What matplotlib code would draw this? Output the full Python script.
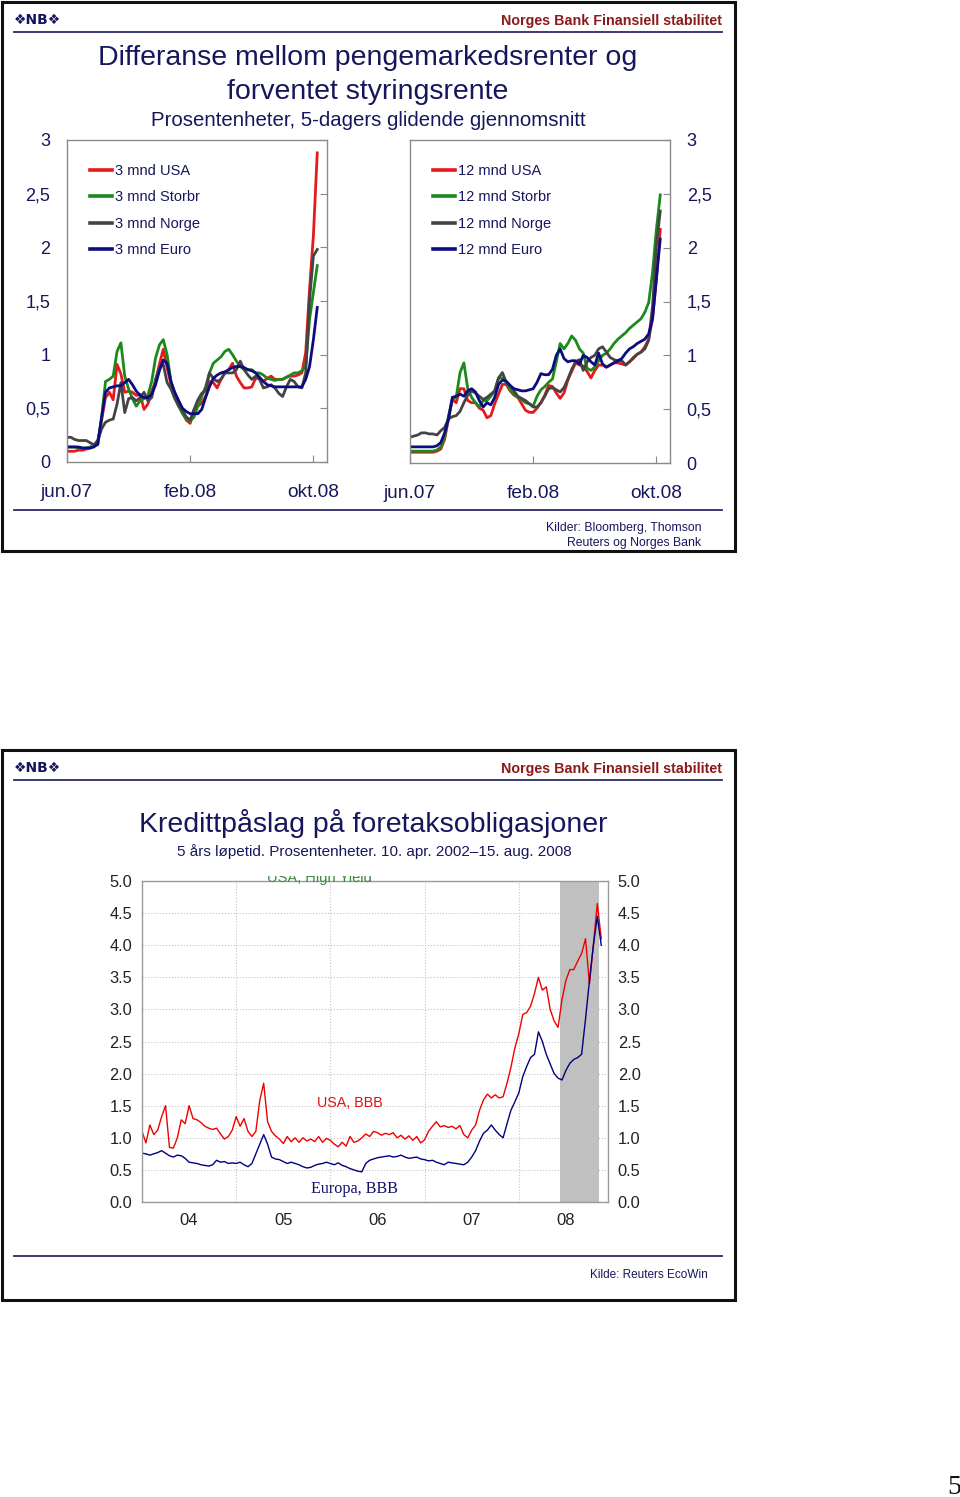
import numpy as np
import matplotlib
matplotlib.use("Agg")
import matplotlib.pyplot as plt
from matplotlib.patches import Rectangle
from matplotlib.lines import Line2D
from matplotlib.transforms import Bbox, TransformedBbox

plt.rcParams["font.family"] = ["Liberation Sans", "DejaVu Sans"]

# -----------------------------
# Data
# -----------------------------
# Slide 1: months after 1 June 2007, weekly-ish steps
months = np.arange(0, 16.26, 0.25)
month_ticks = [0, 8, 16]
month_labels = ["jun.07", "feb.08", "okt.08"]

usa_3m = [0.10, 0.10, 0.10, 0.11, 0.11, 0.12, 0.13, 0.15,
          0.20, 0.39, 0.60, 0.65, 0.58, 0.91, 0.82, 0.65, 0.66, 0.65, 0.62, 0.63, 0.49,
          0.54, 0.66, 0.75, 0.91, 1.05, 0.88, 0.72, 0.63, 0.57, 0.46, 0.39, 0.36,
          0.49, 0.52, 0.55, 0.61, 0.75, 0.74, 0.69, 0.77, 0.83, 0.86, 0.92, 0.80, 0.74,
          0.69, 0.69, 0.70, 0.78, 0.78, 0.75, 0.78, 0.80, 0.77, 0.77, 0.77, 0.79, 0.80,
          0.80, 0.81, 0.83, 1.02, 1.61, 2.11, 2.88]
storbr_3m = [0.14, 0.14, 0.14, 0.13, 0.13, 0.13, 0.14, 0.15,
             0.16, 0.42, 0.75, 0.77, 0.80, 1.03, 1.11, 0.80, 0.68, 0.59, 0.52, 0.57, 0.59,
             0.62, 0.75, 0.97, 1.09, 1.14, 1.00, 0.75, 0.62, 0.52, 0.45, 0.40, 0.38,
             0.42, 0.52, 0.61, 0.70, 0.83, 0.92, 0.95, 0.98, 1.03, 1.05, 1.00, 0.94, 0.89,
             0.86, 0.86, 0.86, 0.83, 0.83, 0.81, 0.78, 0.77, 0.76, 0.77, 0.77, 0.79, 0.81,
             0.83, 0.83, 0.85, 0.89, 1.33, 1.58, 1.83]
norge_3m = [0.23, 0.23, 0.21, 0.20, 0.20, 0.20, 0.18, 0.16,
            0.20, 0.31, 0.37, 0.39, 0.40, 0.54, 0.74, 0.46, 0.59, 0.60, 0.57, 0.60, 0.65,
            0.57, 0.60, 0.77, 0.88, 0.91, 0.74, 0.68, 0.59, 0.52, 0.48, 0.42, 0.39,
            0.49, 0.58, 0.64, 0.67, 0.83, 0.78, 0.75, 0.77, 0.83, 0.83, 0.83, 0.86, 0.94,
            0.86, 0.81, 0.77, 0.80, 0.77, 0.69, 0.70, 0.72, 0.69, 0.64, 0.61, 0.70, 0.77,
            0.75, 0.70, 0.69, 0.83, 1.51, 1.92, 1.98]
euro_3m = [0.14, 0.14, 0.14, 0.14, 0.13, 0.13, 0.13, 0.14,
           0.17, 0.42, 0.65, 0.69, 0.70, 0.71, 0.71, 0.74, 0.77, 0.72, 0.66, 0.62, 0.60,
           0.60, 0.63, 0.72, 0.85, 0.95, 0.92, 0.75, 0.65, 0.57, 0.50, 0.47, 0.45,
           0.45, 0.45, 0.49, 0.60, 0.70, 0.78, 0.81, 0.83, 0.84, 0.86, 0.88, 0.89, 0.89,
           0.88, 0.86, 0.85, 0.83, 0.79, 0.75, 0.72, 0.71, 0.70, 0.70, 0.70, 0.70, 0.70,
           0.70, 0.70, 0.70, 0.77, 0.89, 1.14, 1.44]

usa_12m = [0.10, 0.10, 0.10, 0.10, 0.10, 0.10, 0.10, 0.11,
           0.13, 0.22, 0.41, 0.59, 0.56, 0.69, 0.69, 0.58, 0.56, 0.56, 0.51, 0.49, 0.42,
           0.44, 0.55, 0.64, 0.73, 0.73, 0.67, 0.63, 0.61, 0.55, 0.49, 0.47, 0.47,
           0.51, 0.56, 0.63, 0.72, 0.71, 0.65, 0.60, 0.65, 0.77, 0.85, 0.93, 0.91, 0.90,
           0.85, 0.79, 0.86, 0.91, 0.91, 0.89, 0.91, 0.93, 0.93, 0.92, 0.91, 0.94, 0.97,
           1.01, 1.03, 1.08, 1.15, 1.34, 1.71, 2.17]
storbr_12m = [0.11, 0.11, 0.11, 0.11, 0.11, 0.11, 0.11, 0.12,
              0.15, 0.24, 0.44, 0.59, 0.61, 0.84, 0.93, 0.69, 0.61, 0.56, 0.52, 0.58, 0.58,
              0.62, 0.67, 0.79, 0.79, 0.75, 0.68, 0.64, 0.61, 0.59, 0.56, 0.55, 0.53,
              0.62, 0.68, 0.71, 0.75, 0.78, 0.94, 1.11, 1.06, 1.11, 1.18, 1.14, 1.06, 1.02,
              0.88, 0.86, 0.89, 0.95, 1.00, 1.02, 1.06, 1.11, 1.15, 1.18, 1.21, 1.25, 1.28,
              1.31, 1.34, 1.40, 1.49, 1.77, 2.17, 2.49]
norge_12m = [0.24, 0.25, 0.26, 0.28, 0.28, 0.27, 0.27, 0.26,
             0.30, 0.33, 0.41, 0.43, 0.44, 0.48, 0.56, 0.63, 0.67, 0.65, 0.62, 0.59, 0.61,
             0.64, 0.67, 0.79, 0.84, 0.75, 0.72, 0.67, 0.62, 0.60, 0.58, 0.55, 0.52,
             0.52, 0.56, 0.62, 0.69, 0.70, 0.68, 0.66, 0.70, 0.78, 0.87, 0.94, 0.96, 0.86,
             0.94, 0.98, 1.00, 1.06, 1.08, 1.03, 0.98, 0.96, 0.95, 0.95, 0.91, 0.94, 0.98,
             1.01, 1.03, 1.06, 1.14, 1.46, 2.02, 2.34]
euro_12m = [0.15, 0.15, 0.15, 0.15, 0.15, 0.15, 0.15, 0.16,
            0.19, 0.28, 0.41, 0.61, 0.62, 0.64, 0.62, 0.67, 0.69, 0.66, 0.58, 0.52, 0.56,
            0.54, 0.61, 0.73, 0.77, 0.76, 0.72, 0.69, 0.68, 0.67, 0.67, 0.68, 0.69,
            0.75, 0.83, 0.82, 0.82, 0.87, 1.00, 1.06, 0.97, 0.94, 0.95, 0.95, 0.92, 1.00,
            0.98, 0.94, 0.91, 1.02, 0.92, 0.89, 0.91, 0.93, 0.95, 0.97, 1.02, 1.06, 1.08,
            1.11, 1.13, 1.15, 1.20, 1.34, 1.71, 2.08]

labels_3m = ["3 mnd USA", "3 mnd Storbr", "3 mnd Norge", "3 mnd Euro"]
labels_12m = ["12 mnd USA", "12 mnd Storbr", "12 mnd Norge", "12 mnd Euro"]
rate_ticks = [0, 0.5, 1, 1.5, 2, 2.5, 3]
rate_tick_labels = ["0", "0,5", "1", "1,5", "2", "2,5", "3"]

# Slide 2: half-monthly points from 2004
years = 2004 + np.arange(118) / 24
usa_bbb = [1.10, 0.92, 1.20, 1.05, 1.12, 1.33, 1.50, 0.85, 0.84, 1.00,
           1.28, 1.22, 1.50, 1.30, 1.28, 1.24, 1.18, 1.15, 1.13, 1.15,
           1.06, 0.98, 1.02, 1.12, 1.33, 1.18, 1.30, 1.10, 1.02, 1.10,
           1.58, 1.85, 1.25, 1.10, 1.03, 0.98, 0.91, 1.02, 0.94, 1.00,
           0.93, 1.00, 0.95, 0.98, 0.94, 1.02, 0.93, 0.99, 0.96, 0.90,
           0.86, 0.93, 0.87, 1.02, 0.93, 0.95, 1.00, 1.06, 1.02, 1.10,
           1.08, 1.04, 1.07, 1.05, 1.08, 1.00, 1.04, 0.98, 1.03, 0.96,
           1.02, 0.92, 0.97, 1.10, 1.18, 1.25, 1.17, 1.19, 1.16, 1.18,
           1.14, 1.19, 1.05, 1.00, 1.12, 1.20, 1.43, 1.59, 1.68, 1.62,
           1.67, 1.62, 1.64, 1.85, 2.10, 2.40, 2.62, 2.92, 2.95, 3.05,
           3.25, 3.50, 3.30, 3.35, 3.00, 2.82, 2.72, 3.15, 3.45, 3.62,
           3.62, 3.75, 3.87, 4.10, 3.40, 4.00, 4.65, 4.10]
europa_bbb = [0.76, 0.75, 0.73, 0.75, 0.77, 0.80, 0.76, 0.72, 0.70, 0.73,
              0.72, 0.68, 0.62, 0.61, 0.60, 0.58, 0.57, 0.56, 0.58, 0.65,
              0.62, 0.63, 0.60, 0.61, 0.60, 0.62, 0.58, 0.55, 0.60, 0.75,
              0.90, 1.05, 0.90, 0.70, 0.67, 0.66, 0.63, 0.60, 0.62, 0.60,
              0.58, 0.55, 0.53, 0.54, 0.57, 0.59, 0.60, 0.62, 0.60, 0.58,
              0.61, 0.57, 0.55, 0.52, 0.50, 0.48, 0.47, 0.60, 0.65, 0.67,
              0.69, 0.70, 0.71, 0.72, 0.70, 0.71, 0.73, 0.70, 0.68, 0.69,
              0.70, 0.67, 0.66, 0.64, 0.65, 0.62, 0.60, 0.58, 0.62, 0.61,
              0.60, 0.59, 0.58, 0.62, 0.70, 0.80, 0.95, 1.07, 1.12, 1.20,
              1.12, 1.05, 1.00, 1.22, 1.43, 1.56, 1.70, 1.95, 2.11, 2.25,
              2.30, 2.65, 2.50, 2.30, 2.15, 2.00, 1.93, 1.90, 2.05, 2.16,
              2.22, 2.25, 2.30, 2.85, 3.45, 4.00, 4.45, 4.00]
shade_start, shade_end = 2008.435, 2008.85
year_ticks = [2004.5, 2005.5, 2006.5, 2007.5, 2008.5]
year_labels = ["04", "05", "06", "07", "08"]
spread_ticks = np.arange(0, 5.01, 0.5)

# -----------------------------
# Layout helpers (pixel coords, origin top-left)
# -----------------------------
W, H = 960, 1497
NAVY = "#16165c"
HEAD_RED = "#8b1a1a"
LINE_COLORS = ["#e41a1c", "#1b8a1b", "#444444", "#0c0c80"]

fig = plt.figure(figsize=(W / 100, H / 100), dpi=100)


def fbox(x0, y0, x1, y1):
    return [x0 / W, 1 - y1 / H, (x1 - x0) / W, (y1 - y0) / H]


def ftext(x, y, s, **kw):
    return fig.text(x / W, 1 - y / H, s, **kw)


def hline(x0, x1, y, **kw):
    fig.add_artist(Line2D([x0 / W, x1 / W], [1 - y / H] * 2, transform=fig.transFigure, **kw))


def slide_frame(top, bottom):
    fig.add_artist(Rectangle((2 / W, 1 - bottom / H), 733 / W, (bottom - top) / H,
                             transform=fig.transFigure, fill=False, lw=2.2, ec="#111111"))
    ftext(14, top + 18, "❖NB❖", fontsize=10, fontweight="bold", color=NAVY,
          ha="left", va="center", family=["DejaVu Sans"])
    ftext(722, top + 19, "Norges Bank Finansiell stabilitet", fontsize=10.3,
          fontweight="bold", color=HEAD_RED, ha="right", va="center")
    hline(14, 722, top + 30, color="#2a2a6a", lw=1.3)


# -----------------------------
# Slide 1
# -----------------------------
slide_frame(2, 551)
ftext(368, 58, "Differanse mellom pengemarkedsrenter og", fontsize=20.5, color=NAVY,
      ha="center", va="center")
ftext(368, 92, "forventet styringsrente", fontsize=20.5, color=NAVY, ha="center", va="center")
ftext(368, 121, "Prosentenheter, 5-dagers glidende gjennomsnitt", fontsize=14.7,
      color=NAVY, ha="center", va="center")


def rate_panel(box, series, labels, side):
    x0, y0, x1, y1 = box
    ax = fig.add_axes(fbox(*box))
    for vals, lab, col in zip(series, labels, LINE_COLORS):
        ax.plot(months, vals, color=col, lw=2.0, label=lab, solid_joinstyle="round")
    ax.set_xlim(0, (x1 - x0) / 15.4)
    ax.set_ylim(0, 3)
    ax.set_yticks(rate_ticks)
    ax.set_yticklabels(rate_tick_labels)
    ax.set_xticks(month_ticks)
    ax.set_xticklabels(month_labels)
    ax.tick_params(axis="y", left=False, right=True, direction="in", length=5,
                   labelleft=(side == "left"), labelright=(side == "right"),
                   pad=12, labelsize=13, labelcolor=NAVY, color="#888888")
    ax.tick_params(axis="x", direction="in", length=5, pad=16, labelsize=13.8,
                   labelcolor=NAVY, color="#888888")
    for sp in ax.spines.values():
        sp.set_color("#8a8a8a")
        sp.set_linewidth(1.0)
    leg = ax.legend(loc="upper left", bbox_to_anchor=(0.088, 0.925), frameon=False,
                    fontsize=10.5, handlelength=1.5, handletextpad=0.2, labelspacing=0.84,
                    borderpad=0, borderaxespad=0, labelcolor=NAVY)
    for h in leg.get_lines():
        h.set_linewidth(2.6)
    return ax


rate_panel((67, 140, 327, 462), [usa_3m, storbr_3m, norge_3m, euro_3m], labels_3m, "left")
rate_panel((410, 140, 670, 463), [usa_12m, storbr_12m, norge_12m, euro_12m], labels_12m, "right")

hline(14, 722, 510, color="#2a2a6a", lw=1.3)
ftext(701, 528, "Kilder: Bloomberg, Thomson", fontsize=8.8, color=NAVY, ha="right", va="center")
ftext(701, 543, "Reuters og Norges Bank", fontsize=8.8, color=NAVY, ha="right", va="center")

# -----------------------------
# Slide 2
# -----------------------------
slide_frame(750, 1300)
ftext(373, 823, "Kredittpåslag på foretaksobligasjoner", fontsize=20.5, color=NAVY,
      ha="center", va="center")
ftext(374, 852, "5 års løpetid. Prosentenheter. 10. apr. 2002–15. aug. 2008", fontsize=11,
      color=NAVY, ha="center", va="center")

ax2 = fig.add_axes(fbox(142, 881, 608, 1202))
ax2.axvspan(shade_start, shade_end, color="#c0c0c0", lw=0)
ax2.plot(years, usa_bbb, color="#f00000", lw=1.0)
ax2.plot(years, europa_bbb, color="#000080", lw=1.0)
ax2.set_xlim(2004, 2004 + 466 / 94.2)
ax2.set_ylim(0, 5)
ax2.set_yticks(spread_ticks)
ax2.set_yticklabels([f"{v:.1f}" for v in spread_ticks])
ax2.set_xticks(year_ticks)
ax2.set_xticklabels(year_labels)
ax2.set_xticks([2005, 2006, 2007, 2008], minor=True)
ax2.set_axisbelow(True)
ax2.grid(which="major", axis="y", ls=":", color="#c4c4c4", lw=0.8)
ax2.grid(which="minor", axis="x", ls=":", color="#c4c4c4", lw=0.8)
ax2.tick_params(which="both", length=0)
ax2.tick_params(axis="y", labelleft=True, labelright=True, pad=7, labelsize=11.8,
                labelcolor="#222222")
ax2.tick_params(axis="x", pad=8, labelsize=12, labelcolor="#222222")
for sp in ax2.spines.values():
    sp.set_color("#9a9a9a")
    sp.set_linewidth(1.0)

# series name cut off at the top of the plot, as in the source slide
hy = ax2.text(2005.88, 4.99, "USA, High Yield", color="#3a8a3a", fontsize=10.5,
              ha="center", va="baseline")
hy.set_clip_box(TransformedBbox(Bbox.from_bounds(*fbox(142, 876, 608, 1202)),
                                fig.transFigure))
hy.set_clip_on(True)
ax2.text(2006.21, 1.54, "USA, BBB", color="#e01010", fontsize=10.3, ha="center", va="center")
ax2.text(2006.26, 0.20, "Europa, BBB", color="#10106a", fontsize=11.6, ha="center",
         va="center", family=["Liberation Serif", "DejaVu Serif"])

hline(14, 722, 1256, color="#2a2a6a", lw=1.3)
ftext(708, 1275, "Kilde: Reuters EcoWin", fontsize=8.5, color=NAVY, ha="right", va="center")

ftext(954, 1487, "5", fontsize=20, color="#111111", ha="center", va="center",
      family=["Liberation Serif", "DejaVu Serif"])

fig.savefig("out.png", dpi=100)
